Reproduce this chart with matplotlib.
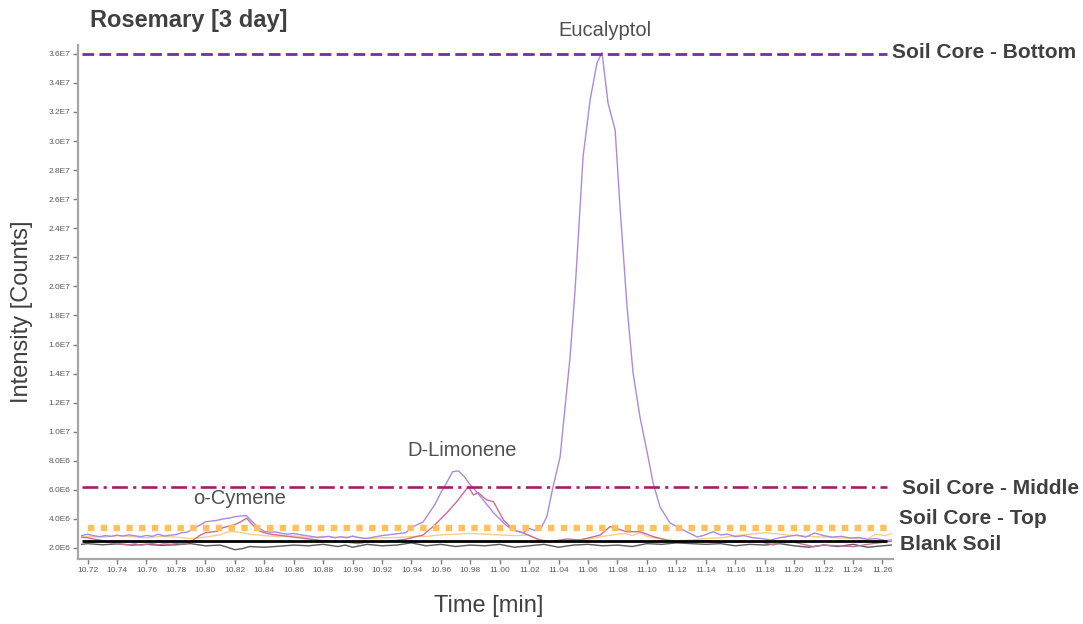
import matplotlib
matplotlib.use("Agg")
import matplotlib.pyplot as plt
from matplotlib.ticker import FixedLocator, FuncFormatter

plt.rcParams["font.family"] = ["Liberation Sans", "DejaVu Sans"]

# chromatogram traces (time in min, intensity in counts)
bottom_t = [10.716, 10.720, 10.724, 10.728, 10.732, 10.736, 10.740, 10.744, 10.748, 10.752,
            10.756, 10.760, 10.764, 10.768, 10.772, 10.776, 10.780, 10.784, 10.788, 10.792,
            10.796, 10.800, 10.804, 10.808, 10.812, 10.816, 10.820, 10.824, 10.828, 10.832,
            10.836, 10.840, 10.844, 10.848, 10.852, 10.856, 10.860, 10.864, 10.868, 10.872,
            10.876, 10.880, 10.884, 10.888, 10.892, 10.896, 10.900, 10.904, 10.908, 10.912,
            10.916, 10.920, 10.924, 10.928, 10.932, 10.936, 10.940, 10.944, 10.948, 10.952,
            10.956, 10.960, 10.964, 10.968, 10.972, 10.976, 10.980, 10.984, 10.988, 10.992,
            10.996, 11.000, 11.004, 11.008, 11.012, 11.016, 11.020, 11.024, 11.0274, 11.032,
            11.0362, 11.041, 11.0444, 11.0478, 11.0512, 11.0546, 11.0566, 11.0614, 11.0661, 11.0695,
            11.0736, 11.0784, 11.0817, 11.0865, 11.0906, 11.0953, 11.1008, 11.1042, 11.1089, 11.1157,
            11.1246, 11.1341, 11.138, 11.145, 11.150, 11.155, 11.160, 11.166, 11.172, 11.178,
            11.184, 11.190, 11.196, 11.202, 11.208, 11.214, 11.220, 11.226, 11.232, 11.238,
            11.244, 11.250, 11.256, 11.262, 11.266]
bottom_i = [2.85, 2.95, 2.85, 2.78, 2.85, 2.80, 2.88, 2.82, 2.90, 2.84,
            2.78, 2.86, 2.80, 2.95, 2.82, 2.88, 2.92, 3.05, 3.10, 3.35,
            3.55, 3.80, 3.85, 3.90, 4.00, 4.05, 4.15, 4.20, 4.22, 3.80,
            3.40, 3.15, 3.08, 3.10, 3.00, 2.95, 3.00, 2.92, 2.85, 2.80,
            2.72, 2.75, 2.80, 2.70, 2.78, 2.70, 2.82, 2.72, 2.65, 2.70,
            2.78, 2.85, 2.90, 2.95, 3.00, 3.05, 3.40, 3.60, 3.80, 4.40,
            5.00, 5.80, 6.50, 7.25, 7.30, 6.90, 6.35, 5.90, 5.40, 4.90,
            4.40, 4.00, 3.60, 3.30, 3.15, 3.05, 3.35, 3.20, 3.24, 4.15,
            6.20, 8.26, 11.7, 15.15, 19.76, 25.47, 28.9, 32.83, 35.38, 36.1,
            32.6, 30.77, 25.47, 18.59, 14.04, 11.0, 8.26, 6.47, 4.82, 3.72,
            3.24, 2.76, 2.85, 3.12, 2.90, 2.95, 2.78, 2.85, 2.70, 2.65,
            2.55, 2.70, 2.80, 2.89, 2.75, 3.03, 2.85, 2.75, 2.80, 2.69,
            2.72, 2.60, 2.65, 2.50, 2.55]

middle_t = [10.716, 10.720, 10.724, 10.728, 10.732, 10.736, 10.740, 10.744, 10.748, 10.752,
            10.756, 10.760, 10.764, 10.768, 10.772, 10.776, 10.780, 10.784, 10.788, 10.792,
            10.796, 10.800, 10.804, 10.808, 10.812, 10.816, 10.820, 10.824, 10.828, 10.832,
            10.836, 10.840, 10.844, 10.848, 10.852, 10.856, 10.860, 10.864, 10.868, 10.872,
            10.876, 10.880, 10.884, 10.888, 10.892, 10.896, 10.900, 10.904, 10.908, 10.912,
            10.916, 10.920, 10.924, 10.928, 10.932, 10.936, 10.940, 10.944, 10.9479, 10.9547,
            10.9640, 10.9708, 10.9787, 10.9821, 10.9855, 10.9912, 10.9957, 11.0025, 11.0093, 11.0161,
            11.0218, 11.0274, 11.035, 11.0456, 11.0546, 11.0682, 11.0750, 11.0863, 11.0953, 11.1044,
            11.1180, 11.130, 11.140, 11.150, 11.160, 11.1769, 11.1859, 11.190, 11.200, 11.2131,
            11.220, 11.230, 11.2403, 11.250, 11.263, 11.266]
middle_i = [2.75, 2.70, 2.62, 2.55, 2.45, 2.35, 2.30, 2.25, 2.22, 2.28,
            2.20, 2.25, 2.30, 2.22, 2.28, 2.25, 2.30, 2.28, 2.35, 2.55,
            2.85, 3.05, 3.10, 3.15, 3.40, 3.50, 3.60, 3.80, 4.05, 3.60,
            3.20, 3.05, 2.95, 2.90, 2.85, 2.80, 2.75, 2.70, 2.65, 2.60,
            2.55, 2.50, 2.45, 2.48, 2.42, 2.40, 2.35, 2.30, 2.38, 2.42,
            2.45, 2.40, 2.45, 2.50, 2.55, 2.60, 2.70, 2.80, 2.89, 3.47,
            4.41, 5.19, 6.22, 5.65, 5.80, 5.30, 5.19, 3.93, 3.24, 3.03,
            2.78, 2.55, 2.45, 2.62, 2.55, 2.89, 3.47, 3.12, 3.12, 2.78,
            2.43, 2.45, 2.50, 2.40, 2.45, 2.43, 2.21, 2.35, 2.40, 2.09,
            2.20, 2.15, 2.09, 2.25, 2.43, 2.45]

top_t = [10.716, 10.72, 10.73, 10.74, 10.75, 10.76, 10.77, 10.78, 10.79, 10.80,
         10.81, 10.815, 10.82, 10.825, 10.83, 10.84, 10.85, 10.86, 10.87, 10.88,
         10.89, 10.90, 10.91, 10.92, 10.93, 10.94, 10.95, 10.96, 10.97, 10.98,
         10.99, 11.00, 11.01, 11.02, 11.025, 11.03, 11.04, 11.05, 11.06, 11.07,
         11.08, 11.085, 11.09, 11.095, 11.10, 11.11, 11.12, 11.13, 11.14, 11.15,
         11.16, 11.17, 11.18, 11.19, 11.20, 11.21, 11.22, 11.23, 11.24, 11.25,
         11.255, 11.262, 11.266]
top_i = [2.70, 2.80, 2.75, 2.85, 2.78, 2.70, 2.80, 2.75, 2.65, 2.75,
         2.90, 3.10, 3.12, 3.05, 2.95, 2.85, 2.78, 2.85, 2.70, 2.80,
         2.72, 2.78, 2.65, 2.70, 2.72, 2.78, 2.80, 2.90, 2.95, 3.00,
         2.95, 2.90, 2.85, 2.90, 2.60, 2.50, 2.45, 2.55, 2.60, 2.80,
         2.95, 3.00, 2.85, 3.05, 2.80, 2.60, 2.50, 2.55, 2.65, 2.70,
         2.85, 2.95, 3.05, 2.95, 2.85, 2.80, 2.75, 2.70, 2.65, 2.60,
         2.95, 2.85, 3.00]

blank_t = [10.716, 10.72, 10.73, 10.74, 10.75, 10.76, 10.77, 10.78, 10.79, 10.80,
           10.81, 10.815, 10.82, 10.825, 10.83, 10.84, 10.85, 10.86, 10.87, 10.88,
           10.89, 10.895, 10.90, 10.91, 10.92, 10.93, 10.94, 10.95, 10.96, 10.97,
           10.98, 10.99, 11.00, 11.01, 11.02, 11.03, 11.04, 11.05, 11.06, 11.07,
           11.08, 11.09, 11.10, 11.11, 11.12, 11.13, 11.14, 11.15, 11.16, 11.17,
           11.18, 11.19, 11.20, 11.21, 11.22, 11.23, 11.24, 11.25, 11.26, 11.266]
blank_i = [2.25, 2.30, 2.22, 2.28, 2.20, 2.25, 2.18, 2.22, 2.30, 2.15,
           2.20, 2.05, 1.88, 1.95, 2.10, 2.05, 2.12, 2.20, 2.15, 2.25,
           2.10, 2.20, 2.05, 2.25, 2.15, 2.20, 2.35, 2.15, 2.25, 2.10,
           2.20, 2.15, 2.25, 2.05, 2.15, 2.25, 2.05, 2.20, 2.25, 2.15,
           2.20, 2.10, 2.30, 2.25, 2.35, 2.30, 2.25, 2.30, 2.15, 2.25,
           2.20, 2.30, 2.15, 2.05, 2.20, 2.10, 2.25, 2.05, 2.15, 2.20]

# reference levels (counts, in millions) and their labels
level_names = ["Soil Core - Bottom", "Soil Core - Middle", "Soil Core - Top", "Blank Soil"]
level_values = [36.0, 6.2, 3.38, 2.48]

peak_names = ["Eucalyptol", "D-Limonene", "o-Cymene"]

x_ticks = [10.72 + 0.02 * k for k in range(28)]
y_ticks = [2.0 + 2.0 * k for k in range(18)]

SCALE = 1e6


def sci_label(v, pos):
    v = v * SCALE
    exp = 0
    while abs(v) >= 10:
        v /= 10
        exp += 1
    return f"{v:.1f}E{exp}"


fig = plt.figure(figsize=(10.83, 6.24), dpi=100)
ax = fig.add_axes([0.0723, 0.1042, 0.7523, 0.8237])

trace_style = dict(lw=1.0, zorder=2)
ax.plot(blank_t, blank_i, color="#5a5a5a", **trace_style)
ax.plot(top_t, top_i, color="#ffcc8a", **trace_style)
ax.plot(middle_t, middle_i, color="#cc6c98", **trace_style)
ax.plot(bottom_t, bottom_i, color="#a98ae0", **trace_style)

x0, x1 = 10.716, 11.263
ax.hlines(level_values[0], x0, x1, color="#7030a0", lw=2.0,
          linestyles=(0, (4.2, 1.9)), zorder=3)
ax.hlines(level_values[1], x0, x1, color="#a0206a", lw=1.9,
          linestyles=(0, (6, 2, 1.2, 2)), zorder=3)
ax.hlines(level_values[2], 10.72, x1, color="#ffc060", lw=4.6,
          linestyles=(0, (1, 1)), zorder=3)
ax.hlines(level_values[3], x0, x1, color="black", lw=2.0, zorder=4)

ax.set_xlim(10.7137, 11.2672)
ax.set_ylim(1.243, 36.61)

ax.xaxis.set_major_locator(FixedLocator(x_ticks))
ax.xaxis.set_major_formatter(FuncFormatter(lambda v, p: f"{v:.2f}"))
ax.yaxis.set_major_locator(FixedLocator(y_ticks))
ax.yaxis.set_major_formatter(FuncFormatter(sci_label))

for side in ["top", "right"]:
    ax.spines[side].set_visible(False)
for side in ["left", "bottom"]:
    ax.spines[side].set_color("#a6a6a6")
    ax.spines[side].set_linewidth(1.6)
ax.tick_params(axis="both", length=3.5, width=1.0, color="#7f7f7f",
               labelsize=6, labelcolor="#595959", pad=2)

txt = "#404040"
fig.text(90 / 1083, 1 - 21 / 624, "Rosemary [3 day]", fontsize=17, fontweight="bold",
         color=txt, ha="left", va="center")

fig.text(22 / 1083, 1 - 312 / 624, "Intensity [Counts]", fontsize=17, rotation=90,
         color=txt, ha="center", va="center")
fig.text(489 / 1083, 1 - 606 / 624, "Time [min]", fontsize=17,
         color=txt, ha="center", va="center")

peak_pos = [(605, 31), (462, 451), (240, 498)]
for name, (px, py) in zip(peak_names, peak_pos):
    fig.text(px / 1083, 1 - py / 624, name, fontsize=14.5, color="#505050",
             ha="center", va="center")

level_pos = [(892, 53), (902, 488), (899, 519), (900, 545)]
for name, (px, py) in zip(level_names, level_pos):
    fig.text(px / 1083, 1 - py / 624, name, fontsize=15, fontweight="bold",
             color=txt, ha="left", va="center")

fig.savefig("out.png", dpi=100)
